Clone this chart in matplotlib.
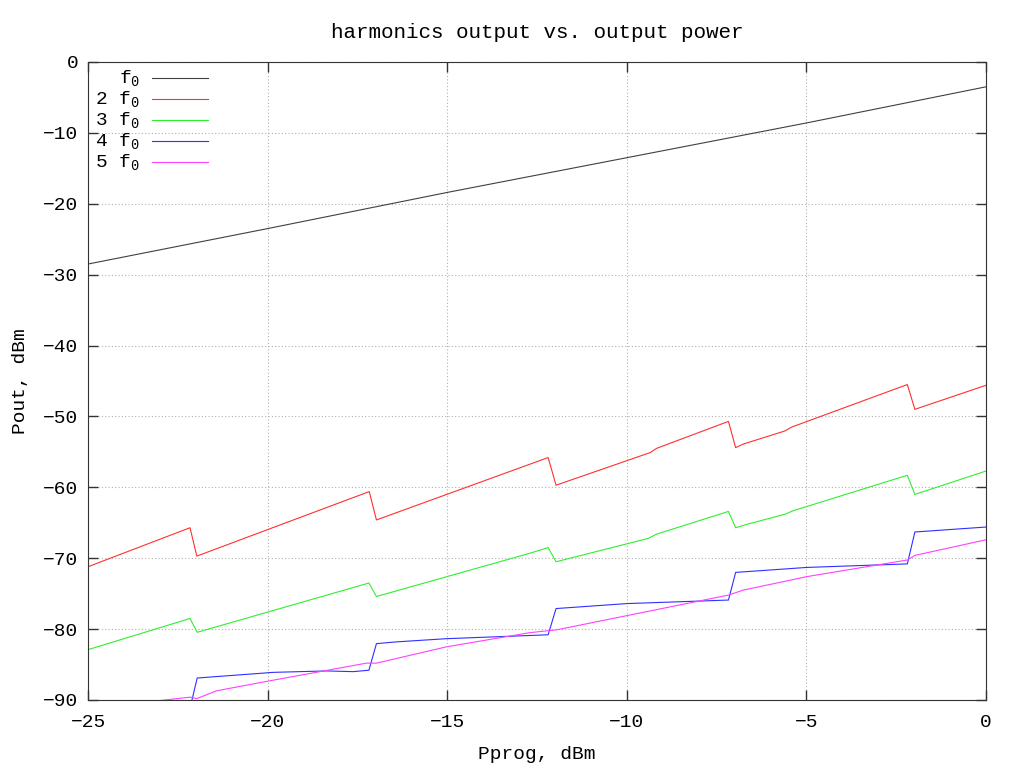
import numpy as np
import matplotlib
matplotlib.use("Agg")
import matplotlib.pyplot as plt

plt.rcParams['font.family'] = ['Liberation Mono', 'DejaVu Sans']
plt.rcParams['mathtext.fontset'] = 'custom'
plt.rcParams['mathtext.rm'] = 'Liberation Mono'
plt.rcParams['mathtext.it'] = 'Liberation Mono'

# fundamental
f1_x = [-25, -20, -15, -10, -5, 0]
f1_y = [-28.5, -23.5, -18.4, -13.5, -8.6, -3.5]

# 2nd harmonic
f2_x = [-25, -22.16, -21.97, -17.17, -16.97, -12.19, -11.97, -9.35, -9.17,
        -7.17, -6.97, -6.76, -5.6, -5.41, -2.19, -1.98, 0]
f2_y = [-71.2, -65.7, -69.7, -60.6, -64.6, -55.8, -59.7, -55.1, -54.5,
        -50.7, -54.4, -53.9, -52.05, -51.5, -45.5, -49.0, -45.6]

# 3rd harmonic
f3_x = [-25, -22.16, -21.96, -17.18, -16.97, -12.7, -12.19, -11.97, -9.4, -9.17,
        -7.17, -6.97, -6.57, -5.6, -5.37, -2.19, -1.98, 0]
f3_y = [-82.9, -78.5, -80.45, -73.5, -75.4, -69.3, -68.5, -70.5, -67.2, -66.6,
        -63.4, -65.7, -65.1, -63.8, -63.3, -58.3, -61.0, -57.7]

# 4th harmonic
f4_x = [-25, -22.12, -21.96, -19.84, -18.36, -17.62, -17.18, -16.97, -16.41,
        -15.02, -12.7, -12.19, -11.97, -10.0, -7.17, -6.97, -4.99, -2.19, -1.98, 0]
f4_y = [-93.0, -90.3, -86.9, -86.1, -85.9, -86.0, -85.8, -82.05, -81.8,
        -81.35, -80.9, -80.8, -77.1, -76.4, -75.9, -72.0, -71.3, -70.8, -66.3, -65.6]

# 5th harmonic
f5_x = [-25, -22.86, -22.16, -21.97, -21.42, -19.84, -17.25, -16.97, -15.02,
        -12.7, -11.95, -7.17, -6.76, -4.99, -2.19, -1.98, 0]
f5_y = [-91.2, -90.0, -89.6, -89.8, -88.7, -87.2, -84.8, -84.8, -82.5,
        -80.5, -80.1, -75.2, -74.5, -72.6, -70.25, -69.6, -67.4]

labels = [r'f$_0$', r'2 f$_0$', r'3 f$_0$', r'4 f$_0$', r'5 f$_0$']
colors = ['#404040', '#ff3030', '#30ee30', '#3030ff', '#ff40ff']

fig = plt.figure(figsize=(10.23, 7.67), dpi=100)
ax = fig.add_axes([88 / 1023, 67 / 767, 898 / 1023, 638 / 767])

series = [(f1_x, f1_y), (f2_x, f2_y), (f3_x, f3_y), (f4_x, f4_y), (f5_x, f5_y)]
for (xs, ys), c in zip(series, colors):
    ax.plot(xs, ys, color=c, lw=0.8)

ax.set_xlim(-25, 0)
ax.set_ylim(-90, 0)
ax.set_xticks(np.arange(-25, 1, 5))
ax.set_yticks(np.arange(-90, 1, 10))
ax.tick_params(direction='in', top=True, right=True, length=7, width=1,
               labelsize=14, pad=7, color='#333333')
ax.tick_params(axis='x', pad=10)
ax.grid(True, color='#b0b0b0', linestyle=(0, (1, 2)), lw=0.8)
for s in ax.spines.values():
    s.set_color('#333333')

ax.set_title('harmonics output vs. output power', fontsize=15, pad=17)
ax.set_xlabel('Pprog, dBm', fontsize=14, labelpad=11)
ax.set_ylabel('Pout, dBm', fontsize=14, labelpad=10)

# gnuplot-like key: right aligned text, sample line after it
for i, (lab, c) in enumerate(zip(labels, colors)):
    y = 1 - (16 + 21 * i) / 638
    ax.text(52 / 898, y, lab, transform=ax.transAxes, ha='right', va='center',
            fontsize=14)
    ax.plot([64 / 898, 120 / 898], [y, y], transform=ax.transAxes, color=c,
            lw=0.8)

fig.savefig('out.png', dpi=100)
